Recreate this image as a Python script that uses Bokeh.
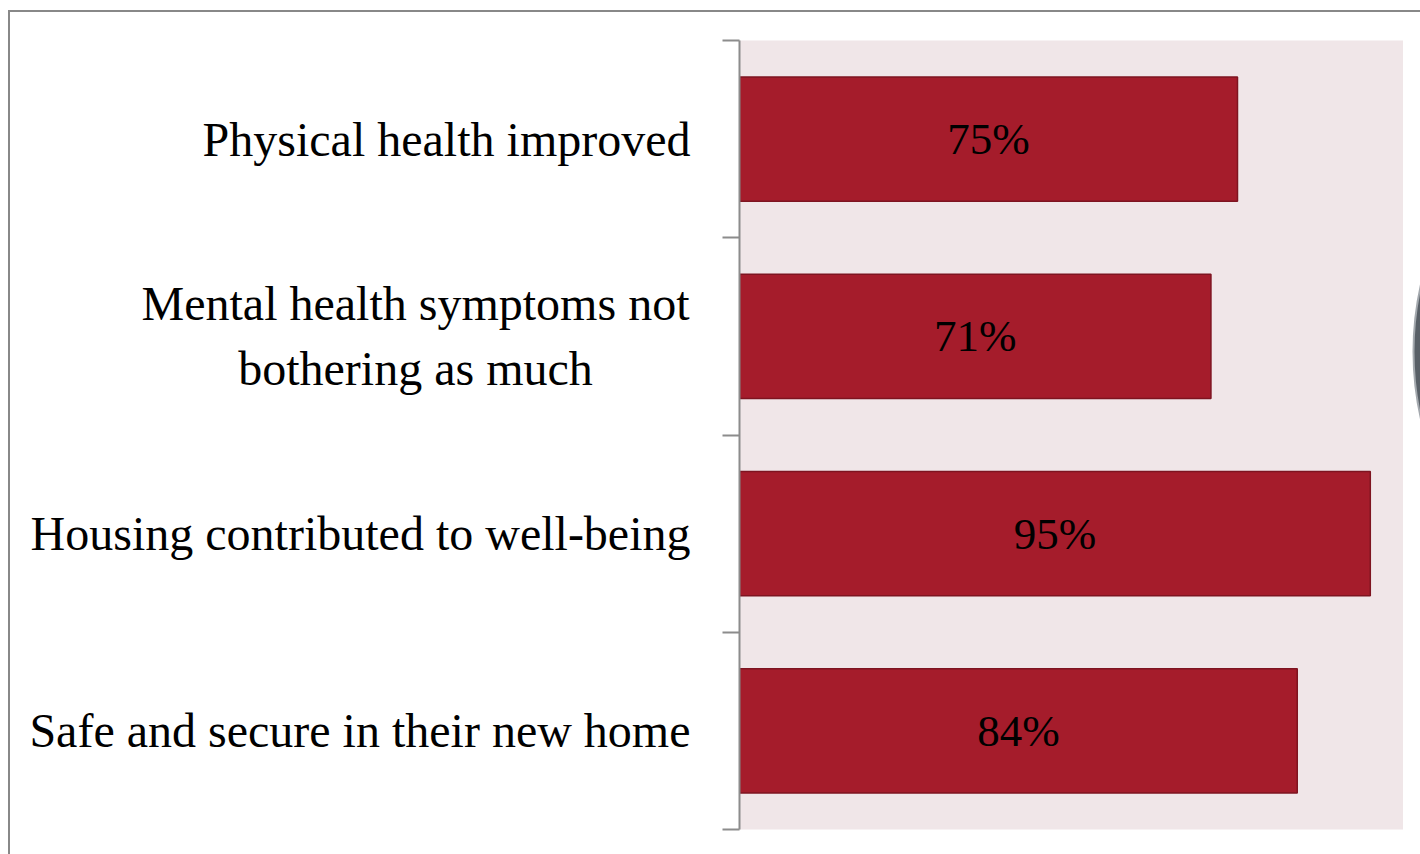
from bokeh.plotting import figure
from bokeh.layouts import row
from bokeh.models import Range1d, FixedTicker, ColumnDataSource, LabelSet
from bokeh.core.properties import value
from bokeh.embed import file_html
from bokeh.resources import INLINE

categories = ["Physical health improved",
              "Mental health symptoms not\nbothering as much",
              "Housing contributed to well-being",
              "Safe and secure in their new home"]
values = [75, 71, 95, 84]
value_labels = ["75%", "71%", "95%", "84%"]

n = len(categories)
ypos = [n - 0.5 - i for i in range(n)]
src = ColumnDataSource(dict(y=ypos, v=values, xc=[v / 2 for v in values], lab=value_labels))

H = 844
LEFT_W = 700
MID_W = 693
DECO_W = 19
TOP, BOTTOM = 28, 27
yr = Range1d(0, n)
SERIF = "Liberation Serif"

# ---- left panel: category labels ----
left = figure(width=LEFT_W, height=H, x_range=Range1d(0, LEFT_W), y_range=yr,
              output_backend="svg", toolbar_location=None,
              min_border_left=0, min_border_right=0, min_border_top=TOP, min_border_bottom=BOTTOM)
left.axis.visible = False
left.grid.visible = False
left.outline_line_color = None
left.background_fill_color = "white"
left.border_fill_color = "white"

single = [i for i, c in enumerate(categories) if "\n" not in c]
multi = [i for i, c in enumerate(categories) if "\n" in c]
left.text(x=[LEFT_W - 20] * len(single), y=[ypos[i] for i in single],
          text=[categories[i] for i in single], text_align="right", text_baseline="middle",
          text_font=value(SERIF), text_font_size="48px", text_color="black")
left.text(x=[LEFT_W - 295] * len(multi), y=[ypos[i] for i in multi],
          text=[categories[i] for i in multi], text_align="center", text_baseline="middle",
          text_font=value(SERIF), text_font_size="48px", text_color="black",
          text_line_height=1.23)

# ---- middle panel: bars ----
p = figure(width=MID_W, height=H, x_range=Range1d(0, 100), y_range=yr,
           output_backend="svg", toolbar_location=None,
           min_border_left=729 - LEFT_W, min_border_right=0,
           min_border_top=TOP, min_border_bottom=BOTTOM)
p.background_fill_color = "#F0E6E8"
p.border_fill_color = "white"
p.outline_line_color = None
p.grid.visible = False
p.xaxis.visible = False

p.hbar(y="y", left=0, right="v", height=0.63, source=src,
       fill_color="#A51C2B", line_color="#7E1420", line_width=1.5)

p.add_layout(LabelSet(x="xc", y="y", text="lab", source=src, text_align="center",
                      text_baseline="middle", text_font=SERIF,
                      text_font_size="45px", text_color="black"))

ax = p.yaxis[0]
ax.ticker = FixedTicker(ticks=[], minor_ticks=list(range(n + 1)))
ax.major_tick_line_color = None
ax.major_label_text_font_size = "0px"
ax.major_tick_out = 0
ax.minor_tick_out = 17
ax.minor_tick_in = 0
ax.minor_tick_line_color = "#8C8C8C"
ax.minor_tick_line_width = 2
ax.axis_line_color = "#8C8C8C"
ax.axis_line_width = 2

# ---- right strip: edge of a cropped dark decoration ----
deco = figure(width=DECO_W, height=H, x_range=Range1d(0, DECO_W), y_range=Range1d(0, H),
              output_backend="svg", toolbar_location=None,
              min_border_left=0, min_border_right=0, min_border_top=0, min_border_bottom=0)
deco.axis.visible = False
deco.grid.visible = False
deco.outline_line_color = None
deco.background_fill_color = "white"
deco.border_fill_color = "white"
deco.circle(x=[315], y=[511], radius=305, fill_color="#596067", line_color="#A4A9AE",
            line_width=2)

layout = row(left, p, deco, spacing=0,
             styles={"margin-left": "8px", "margin-top": "10px",
                     "border-left": "2px solid #888888", "border-top": "2px solid #888888"})

open("out.html", "w").write(file_html(layout, INLINE))
